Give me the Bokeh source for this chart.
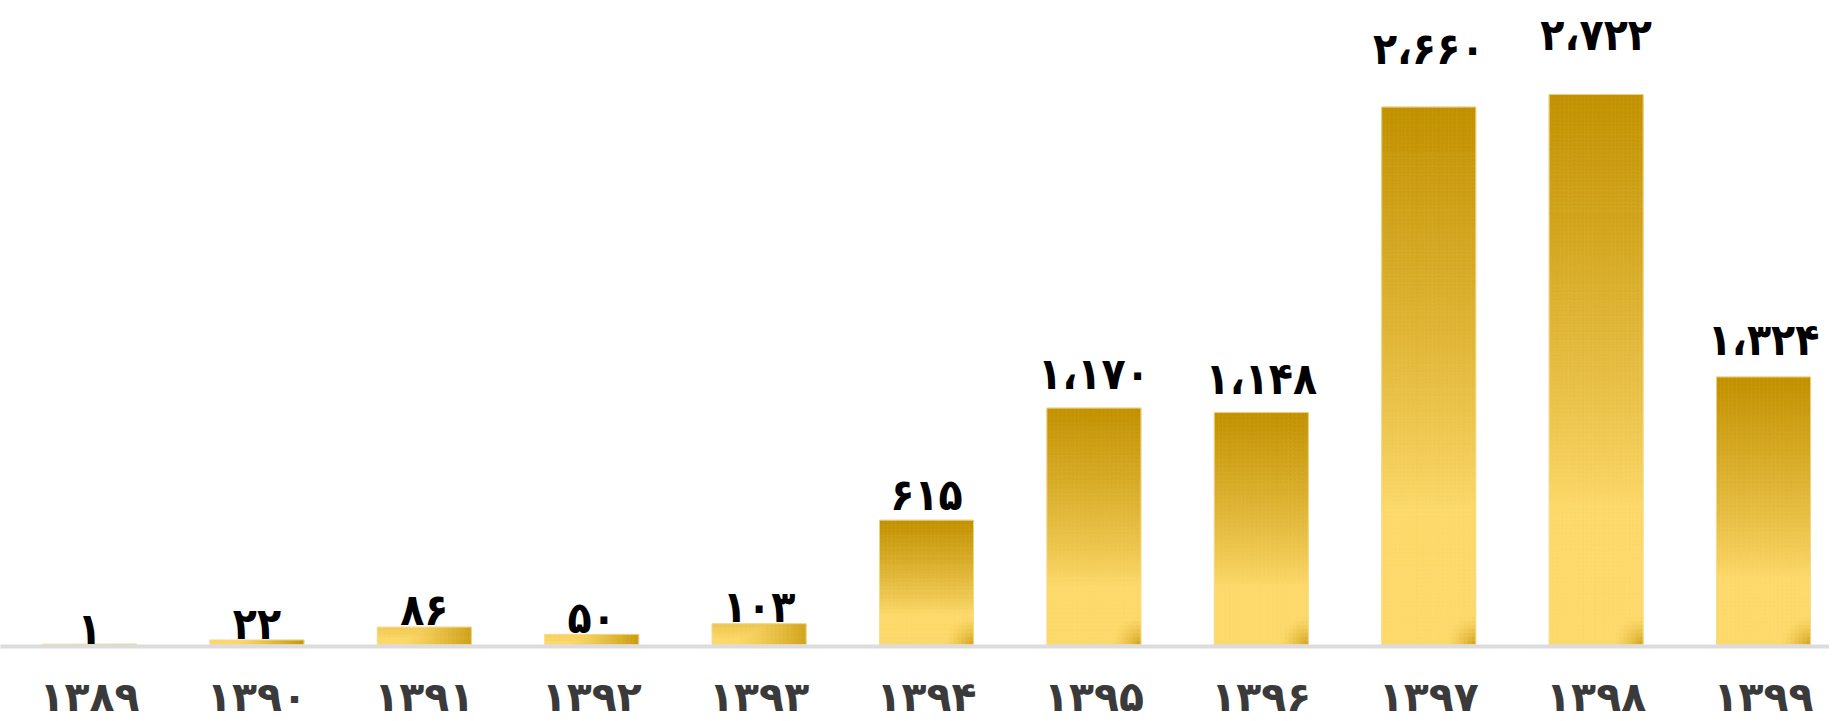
import math
from bokeh.plotting import figure
from bokeh.models import Range1d, FixedTicker, ColumnDataSource
from bokeh.core.properties import value
from bokeh.embed import file_html
from bokeh.resources import INLINE

# ---- data ----
years = ["1389", "1390", "1391", "1392", "1393", "1394", "1395", "1396", "1397", "1398", "1399"]
amounts = [1, 22, 86, 50, 103, 615, 1170, 1148, 2660, 2722, 1324]

FA = str.maketrans("0123456789", "۰۱۲۳۴۵۶۷۸۹")


def fa_num(n):
    return f"{n:,}".replace(",", "،").translate(FA)


# ---- layout ----
W = 1829
FRAME_H = 639
X0, X1 = -0.5317, 10.394
Y0, Y1 = -9.9, 3153
BAR_W = 0.5615

p = figure(width=W, height=720, output_backend="svg", toolbar_location=None,
           x_range=Range1d(X0, X1), y_range=Range1d(Y0, Y1),
           y_axis_location=None, min_border_left=0, min_border_right=0,
           min_border_top=7, min_border_bottom=0)
p.frame_height = FRAME_H
p.frame_width = W
p.outline_line_color = None
p.grid.visible = False
p.background_fill_color = "white"
p.border_fill_color = "white"

ppu = FRAME_H / (Y1 - Y0)
ppx = W / (X1 - X0)


def lerp(c1, c2, t):
    return "#%02x%02x%02x" % tuple(int(round(a + (b - a) * t)) for a, b in zip(c1, c2))


LIGHT = (253, 217, 106)
DARK = (194, 145, 0)


def clamp(v):
    return max(0.0, min(1.0, v))


cells = dict(left=[], right=[], top=[], bottom=[], color=[])
for i, v in enumerate(amounts):
    h_px = v * ppu
    w_px = BAR_W * ppx
    rows = max(1, int(math.ceil(h_px / 4)))
    cols = 24
    s = clamp(h_px / 80)
    for r in range(rows):
        for c in range(cols):
            xf = (c + 0.5) / cols
            yf = (r + 0.5) / rows
            y_px = yf * h_px
            t_v = clamp((yf - 0.25) / 0.75) ** 0.85 * s
            t_h = clamp((xf - 0.25) / 0.75) ** 1.3 * (1 - s)
            dc = math.hypot((1 - xf) * w_px, y_px)
            t_c = clamp(1 - dc / 30) ** 1.5 * 0.75
            t = max(t_v, t_h, t_c)
            l = i - BAR_W / 2
            cells["left"].append(l + c * BAR_W / cols)
            cells["right"].append(l + (c + 1) * BAR_W / cols)
            cells["bottom"].append(v * r / rows)
            cells["top"].append(v * (r + 1) / rows)
            cells["color"].append(lerp(LIGHT, DARK, t))

src = ColumnDataSource(cells)
p.quad(left="left", right="right", top="top", bottom="bottom", source=src,
       fill_color="color", line_color="color", line_width=0.6)

idx = list(range(len(years)))
p.quad(left=[i - BAR_W / 2 for i in idx], right=[i + BAR_W / 2 for i in idx],
       bottom=[0] * len(idx), top=amounts, fill_alpha=0,
       line_color="#f2dc92", line_width=1, line_alpha=0.8)

labels = [fa_num(v) for v in amounts]
p.text(x=idx, y=[v * 1.08 for v in amounts], text=labels,
       text_align="center", text_baseline="alphabetic", y_offset=-16,
       text_font=value("DejaVu Sans Condensed"), text_font_style="bold",
       text_font_size="44px", text_color="black")

ax = p.xaxis[0]
ax.ticker = FixedTicker(ticks=idx)
ax.major_label_overrides = {i: y.translate(FA) for i, y in enumerate(years)}
ax.major_label_text_font = "DejaVu Sans"
ax.major_label_text_font_style = "bold"
ax.major_label_text_font_size = "41px"
ax.major_label_text_color = "#3a3a3a"
ax.major_label_standoff = 26
ax.major_tick_line_color = None
ax.minor_tick_line_color = None
ax.major_tick_out = 0
ax.major_tick_in = 0
ax.axis_line_color = "#dcdcdc"
ax.axis_line_width = 4

open("out.html", "w").write(file_html(p, INLINE))
